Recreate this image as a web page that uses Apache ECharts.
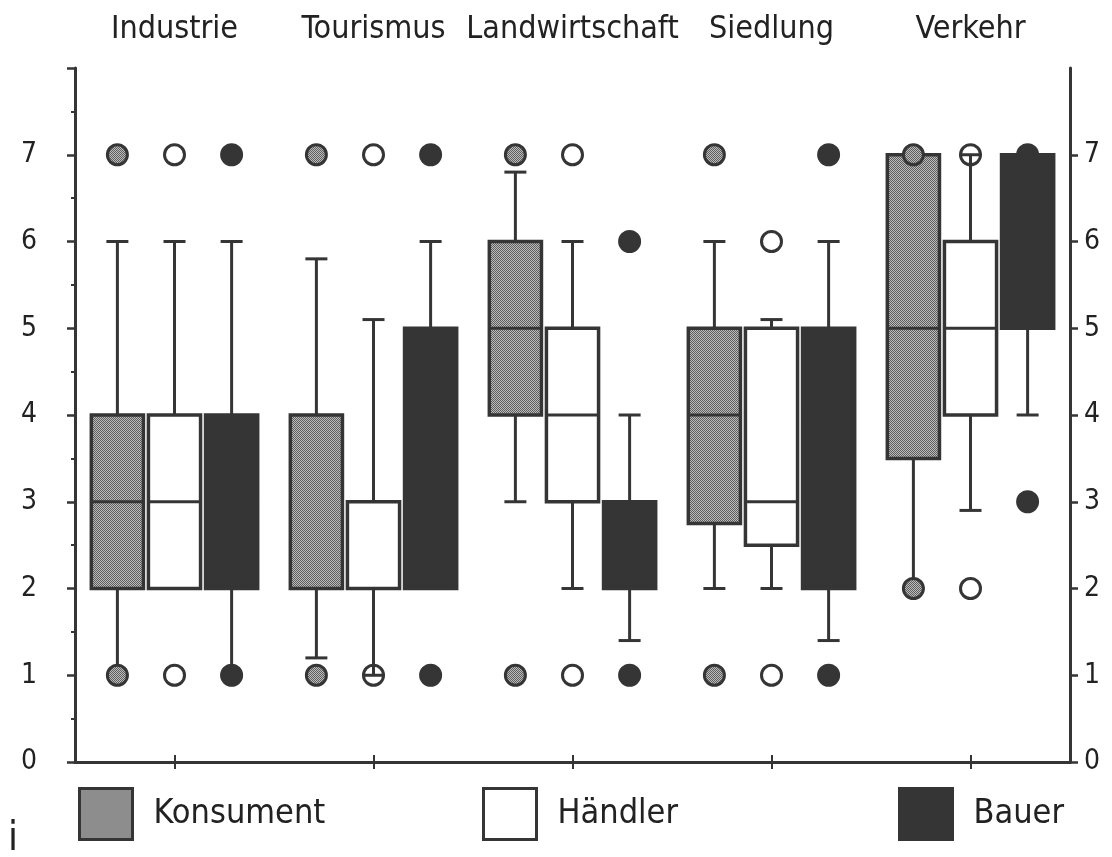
<!DOCTYPE html>
<html>
<head>
<meta charset="utf-8">
<script src="https://cdn.jsdelivr.net/npm/echarts@6/dist/echarts.min.js"></script>
<style>
html,body{margin:0;padding:0;background:#fff;}
#chart{width:1112px;height:857px;}
</style>
</head>
<body>
<div id="chart"></div>
<script>
// ---- data ----
const categories = ['Industrie', 'Tourismus', 'Landwirtschaft', 'Siedlung', 'Verkehr'];
const groups = ['Konsument', 'Händler', 'Bauer'];
// [min, Q1, median, Q3, max] per category
const konsumentBox = [[1, 2, 3, 4, 6], [1.2, 2, 2, 4, 5.8], [3, 4, 5, 6, 6.8], [2, 2.75, 4, 5, 6], [2, 3.5, 5, 7, 7]];
const haendlerBox  = [[2, 2, 3, 4, 6], [1, 2, 2, 3, 5.1], [2, 3, 4, 5, 6], [2, 2.5, 3, 5, 5.1], [2.9, 4, 5, 6, 7]];
const bauerBox     = [[1, 2, 3, 4, 6], [2, 2, 3, 5, 6], [1.4, 2, 2, 3, 4], [1.4, 2, 4, 5, 6], [4, 5, 6, 7, 7]];
// outlier values per category
const konsumentOut = [[1, 7], [1, 7], [1, 7], [1, 7], [2, 7]];
const haendlerOut  = [[1, 7], [1, 7], [1, 7], [1, 6], [2, 7]];
const bauerOut     = [[1, 7], [1, 7], [1, 6], [1, 7], [3, 7]];
const yTickLabels = ['0', '1', '2', '3', '4', '5', '6', '7', ''];
const rightTicks = [0, 1, 2, 3, 4, 5, 6, 7];

// ---- styles ----
const FONT = "'Liberation Sans Narrow', 'DejaVu Sans Condensed', 'Liberation Sans', sans-serif";
const INK = '#353535';
function dither() {
  const c = document.createElement('canvas');
  c.width = 2; c.height = 2;
  const g = c.getContext('2d');
  g.fillStyle = '#bcbcbc'; g.fillRect(0, 0, 2, 2);
  g.fillStyle = '#5e5e5e'; g.fillRect(0, 0, 1, 1); g.fillRect(1, 1, 1, 1);
  return c;
}
const konsumentFill = { image: dither(), repeat: 'repeat' };
const fills = [konsumentFill, '#ffffff', INK];
const circleFills = [konsumentFill, 'rgba(0,0,0,0)', INK];
const OFFSET = 0.287, BOXW = 0.262, CAPW = 22;

function boxRender(gi) {
  return function (params, api) {
    const cat = api.value(0);
    const band = api.size([1, 0])[0];
    const cx = api.coord([cat, 0])[0] + (gi - 1) * OFFSET * band;
    const w = BOXW * band;
    const y = [1, 2, 3, 4, 5].map(i => api.coord([cat, api.value(i)])[1]);
    const lw = 3;
    const line = (x1, y1, x2, y2) => ({ type: 'line', shape: { x1, y1, x2, y2 }, style: { stroke: INK, lineWidth: lw } });
    const children = [];
    if (y[4] < y[3]) { children.push(line(cx, y[3], cx, y[4])); children.push(line(cx - CAPW / 2, y[4], cx + CAPW / 2, y[4])); }
    if (y[0] > y[1]) { children.push(line(cx, y[1], cx, y[0])); children.push(line(cx - CAPW / 2, y[0], cx + CAPW / 2, y[0])); }
    children.push({ type: 'rect', shape: { x: cx - w / 2, y: y[3], width: w, height: y[1] - y[3] },
      style: { fill: fills[gi], stroke: INK, lineWidth: 3.5 } });
    children.push(line(cx - w / 2, y[2], cx + w / 2, y[2]));
    return { type: 'group', children };
  };
}
function outRender(gi) {
  return function (params, api) {
    const cat = api.value(0);
    const band = api.size([1, 0])[0];
    const pt = api.coord([cat, api.value(1)]);
    const cx = pt[0] + (gi - 1) * OFFSET * band;
    return { type: 'circle', shape: { cx, cy: pt[1], r: 10 },
      style: { fill: circleFills[gi], stroke: INK, lineWidth: 3 } };
  };
}
const boxes = [konsumentBox, haendlerBox, bauerBox];
const outs = [konsumentOut, haendlerOut, bauerOut];
const series = [];
groups.forEach((g, gi) => {
  series.push({
    type: 'custom', name: g, renderItem: boxRender(gi), z: 2,
    encode: { x: 0, y: [1, 2, 3, 4, 5] },
    data: boxes[gi].map((b, ci) => [ci].concat(b))
  });
});
groups.forEach((g, gi) => {
  const d = [];
  outs[gi].forEach((vals, ci) => vals.forEach(v => d.push([ci, v])));
  series.push({
    type: 'custom', name: g, renderItem: outRender(gi), z: 3,
    encode: { x: 0, y: 1 }, data: d
  });
});

const legendPos = [73, 477, 893];
const legendIcons = [
  { color: konsumentFill, borderColor: INK, borderWidth: 3 },
  { color: '#ffffff', borderColor: INK, borderWidth: 3 },
  { color: INK, borderColor: INK, borderWidth: 3 }
];
const legends = groups.map((g, gi) => ({
  left: legendPos[gi], top: 782, orient: 'horizontal',
  icon: 'rect', itemWidth: 53, itemHeight: 51, selectedMode: false,
  data: [{ name: g, itemStyle: legendIcons[gi] }],
  textStyle: { fontFamily: FONT, fontSize: 34, color: '#222', padding: [0, 0, 0, 16] }
}));

const axisLine = { show: true, lineStyle: { color: INK, width: 3 } };
const chart = echarts.init(document.getElementById('chart'), null, { renderer: 'canvas' });
chart.setOption({
  backgroundColor: '#ffffff',
  animation: false,
  grid: { left: 75, right: 42, top: 68, bottom: 95 },
  legend: legends,
  xAxis: [
    { type: 'category', data: categories, position: 'bottom',
      axisLine, axisTick: { show: true, alignWithLabel: true, length: 7, lineStyle: { color: INK, width: 2 } },
      axisLabel: { show: false }, splitLine: { show: false } },
    { type: 'category', data: categories, position: 'top',
      axisLine, axisTick: { show: true, alignWithLabel: true, length: 7, lineStyle: { color: INK, width: 2 } },
      axisLabel: { show: true, interval: 0, hideOverlap: false, fontFamily: FONT, fontSize: 32, color: '#222', margin: 22 },
      splitLine: { show: false } }
  ],
  yAxis: [
    { type: 'value', min: 0, max: 8, interval: 1, position: 'left',
      axisLine, axisTick: { show: true, length: 8, lineStyle: { color: INK, width: 2.5 } },
      minorTick: { show: true, splitNumber: 2, length: 4, lineStyle: { color: INK, width: 2 } },
      axisLabel: { fontFamily: FONT, fontSize: 28, color: '#222', margin: 38, formatter: v => yTickLabels[v] },
      splitLine: { show: false } },
    { type: 'value', min: 0, max: 8, interval: 1, position: 'right',
      axisLine, axisTick: { show: true, length: 8, customValues: rightTicks, lineStyle: { color: INK, width: 2.5 } },
      axisLabel: { fontFamily: FONT, fontSize: 28, color: '#222', margin: 14, formatter: v => yTickLabels[v] },
      splitLine: { show: false } }
  ],
  series,
  graphic: [{ type: 'text', left: 8, top: 820, style: { text: 'i', fontFamily: FONT, fontSize: 40, fill: '#222' } }]
});
</script>
</body>
</html>
